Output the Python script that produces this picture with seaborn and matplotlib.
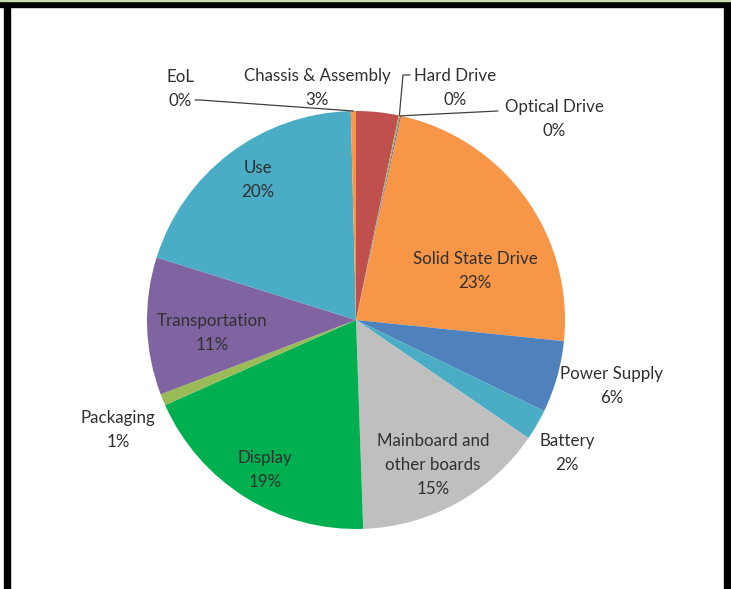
import numpy as np
import matplotlib
matplotlib.use("Agg")
import matplotlib.pyplot as plt
from matplotlib.patches import Rectangle
import seaborn as sns

# Chart values, clockwise from 12 o'clock
categories = ["Chassis & Assembly", "Hard Drive", "Optical Drive", "Solid State Drive",
              "Power Supply", "Battery", "Mainboard and\nother boards", "Display",
              "Packaging", "Transportation", "Use", "EoL"]
shares = [3.3, 0.1, 0.1, 23.3, 5.6, 2.4, 15.0, 19.0, 0.9, 10.7, 19.9, 0.4]
pct_labels = ["3%", "0%", "0%", "23%", "6%", "2%", "15%", "19%", "1%", "11%", "20%", "0%"]
colors = ["#C0504D", "#9BBB59", "#8064A2", "#F79646", "#4F81BD", "#4BACC6",
          "#BFBFBF", "#00B050", "#9BBB59", "#8064A2", "#4BACC6", "#F79646"]

W, H = 731, 589
CENTER = (356, 320)   # pixels from top-left
RADIUS = 209

# label centres in pixels (x, y from top)
label_pos = {
    "Chassis & Assembly": (317, 88),
    "Hard Drive": (455, 88),
    "Optical Drive": (554, 119),
    "Solid State Drive": (475, 271),
    "Power Supply": (612, 386),
    "Battery": (567, 453),
    "Mainboard and\nother boards": (433, 465),
    "Display": (265, 470),
    "Packaging": (118, 430),
    "Transportation": (212, 333),
    "Use": (258, 180),
    "EoL": (180, 89),
}
# leader line start points next to the label (pixels)
leaders = {
    "EoL": [(195, 100), (200, 100)],
    "Hard Drive": [(410, 75), (403, 75)],
    "Optical Drive": [(498, 111)],
}


def px(x, y):
    return x, H - y


def main():
    sns.set_theme(style="white")
    plt.rcParams["font.family"] = ["Lato", "DejaVu Sans"]

    fig = plt.figure(figsize=(W / 100, H / 100), dpi=100)
    ax = fig.add_axes([0, 0, 1, 1])
    ax.set_xlim(0, W)
    ax.set_ylim(0, H)
    ax.set_aspect("equal")
    ax.axis("off")

    wedges, _ = ax.pie(shares, colors=colors, startangle=90, counterclock=False,
                       center=px(*CENTER), radius=RADIUS,
                       wedgeprops=dict(linewidth=0))
    ax.set_xlim(0, W)
    ax.set_ylim(0, H)

    for name, pct, w in zip(categories, pct_labels, wedges):
        x, y = px(*label_pos[name])
        ax.text(x, y, f"{name}\n{pct}", ha="center", va="center", fontsize=12.2,
                color="#303030", linespacing=1.65)
        if name in leaders:
            mid = np.deg2rad((w.theta1 + w.theta2) / 2)
            cx, cy = px(*CENTER)
            ax_ = cx + RADIUS * np.cos(mid)
            ay_ = cy + RADIUS * np.sin(mid)
            pts = [px(*p) for p in leaders[name]] + [(ax_, ay_)]
            xs, ys = zip(*pts)
            ax.plot(xs, ys, color="#404040", lw=0.9)

    # frame around the chart
    ax.add_patch(Rectangle(px(0, 7), W, 6, color="black", clip_on=False))
    ax.add_patch(Rectangle(px(4, H), 6, H - 1, color="black", clip_on=False))
    ax.add_patch(Rectangle(px(724, H), 7, H - 1, color="black", clip_on=False))
    ax.add_patch(Rectangle(px(0, 1), W, 1, color="#C8DCB4", clip_on=False))

    fig.savefig("out.png", dpi=100)


if __name__ == "__main__":
    main()
